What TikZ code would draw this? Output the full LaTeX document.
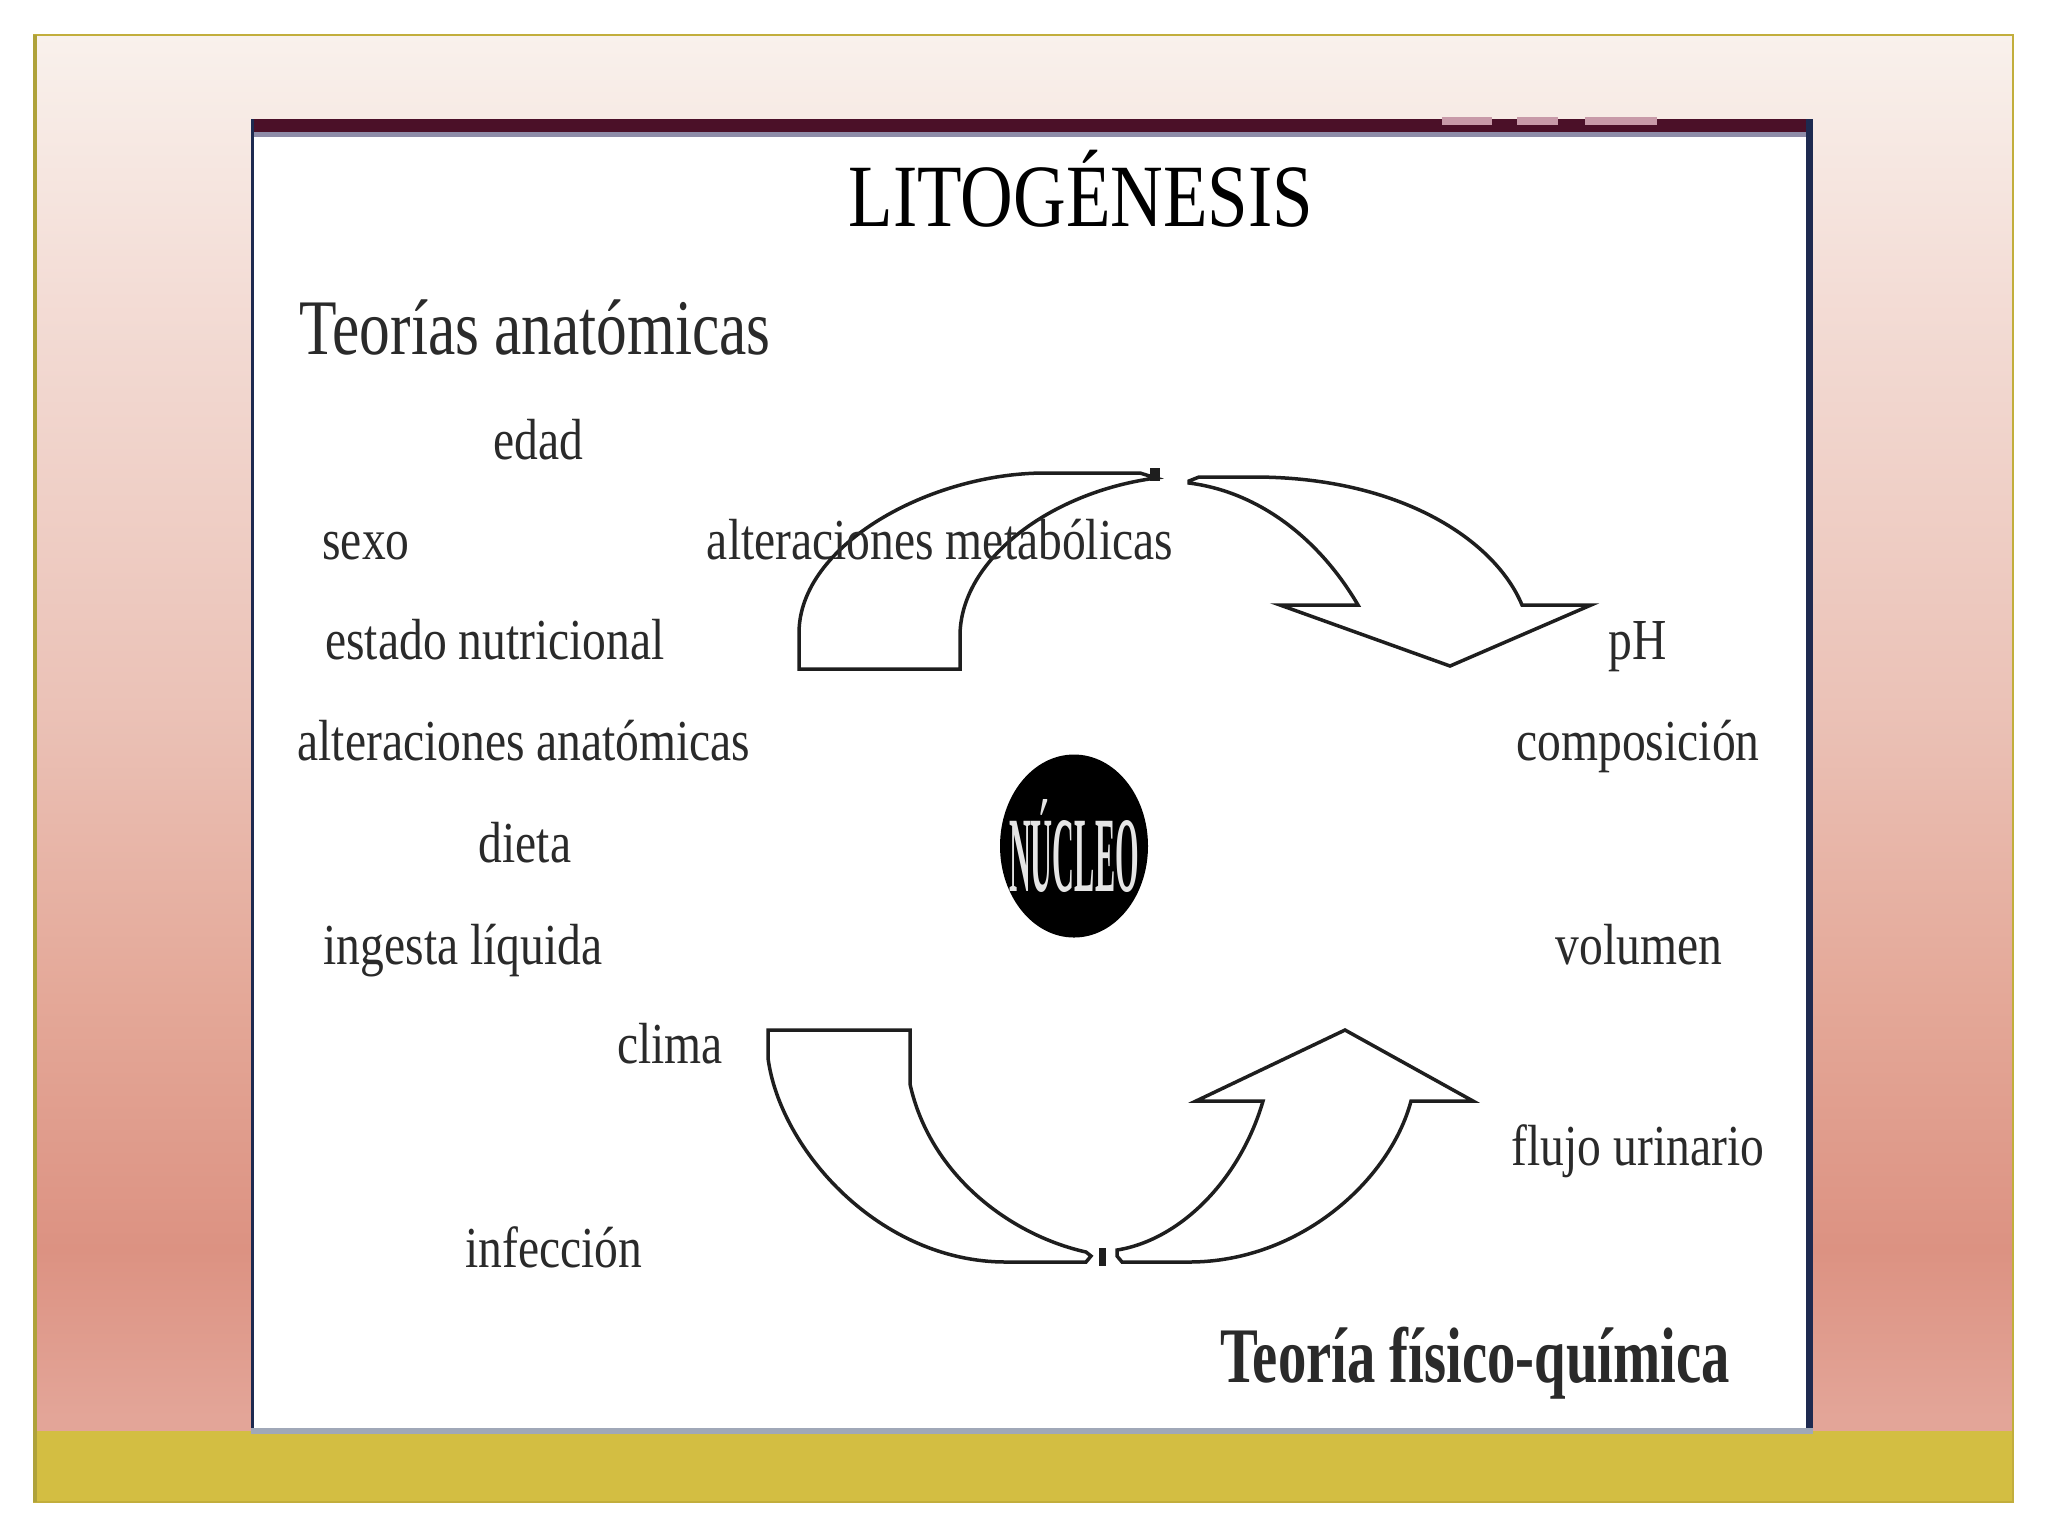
\documentclass[tikz,border=0pt]{standalone}
\usepackage{fontspec}
\usetikzlibrary{shapes.geometric}
\newfontfamily\slidefont[FakeStretch=0.82]{Liberation Serif}
\newfontfamily\headfont[FakeStretch=0.78]{Liberation Serif}
\newfontfamily\fqfont[FakeStretch=0.72]{Liberation Serif}

\definecolor{bgA}{HTML}{E3A598}
\definecolor{bgB}{HTML}{DC9282}
\definecolor{bgC}{HTML}{E4A898}
\definecolor{bgD}{HTML}{EBC2B7}
\definecolor{bgE}{HTML}{F3DCD5}
\definecolor{bgF}{HTML}{F9F1EC}
\definecolor{bandyellow}{HTML}{D3BE42}
\definecolor{framegold}{HTML}{C2AE3C}
\definecolor{frameolive}{HTML}{AFA23A}
\definecolor{barmaroon}{HTML}{4B1028}
\definecolor{barpink}{HTML}{C89AA8}
\definecolor{barslate}{HTML}{8E8CA8}
\definecolor{panelnavy}{HTML}{1E2A50}
\definecolor{panelgray}{HTML}{A0A8B8}
\definecolor{txtgray}{HTML}{2A2A2A}
\definecolor{arrowline}{HTML}{1E1E1E}

% the path is fitted to the middle half (25bp--75bp) of the shading
\pgfdeclareverticalshading{slidebg}{100bp}{color(0bp)=(bgA); color(25bp)=(bgA); color(25.5bp)=(bgA); color(31.5bp)=(bgB); color(40.5bp)=(bgC); color(51bp)=(bgD); color(65.5bp)=(bgE); color(75bp)=(bgF); color(100bp)=(bgF)}

\tikzset{
  item/.style={anchor=base, inner sep=0pt, text=txtgray,
    font=\slidefont\fontsize{16.5}{18}\selectfont},
  heading/.style={anchor=base, inner sep=0pt, text=txtgray,
    font=\headfont\fontsize{22.4}{24}\selectfont},
  bigarrow/.style={draw=arrowline, line width=0.35mm, fill=white, line join=miter},
  nucleo/.style={ellipse, fill=black, inner sep=0pt,
    minimum width=14.8mm, minimum height=18.3mm},
}

\begin{document}
\begin{tikzpicture}[x=0.1mm, y=-0.1mm]
    \useasboundingbox (0,0) rectangle (2048,1536);

    % Slide background
    \shade[shading=slidebg] (34,35) rectangle (2013,1431);
    \fill[bandyellow] (34,1431) rectangle (2013,1502);
    \draw[framegold, line width=0.25mm] (34,35) rectangle (2013,1502);
    \draw[frameolive, line width=0.4mm] (35,35) -- (35,1502);

    % Panel
    \fill[white] (251,119) rectangle (1813,1434);
    \fill[barmaroon] (251,119) rectangle (1813,132);
    \fill[barpink] (1442,117) rectangle (1492,125);
    \fill[barpink] (1517,117) rectangle (1558,125);
    \fill[barpink] (1585,117) rectangle (1657,125);
    \fill[barslate] (254,132) rectangle (1806,137);
    \fill[panelnavy] (251,119) rectangle (254,1434);
    \fill[panelnavy] (1806,119) rectangle (1813,1434);
    \fill[panelgray] (251,1428) rectangle (1813,1434);

    % Titles
    \node[anchor=base, inner sep=0pt, text=black, font=\slidefont\fontsize{25.3}{27}\selectfont]
        (titulo) at (1081,226) {LITOGÉNESIS};
    \node[heading] (anat) at (535,354) {Teorías anatómicas};
    \node[heading, font=\fqfont\bfseries\fontsize{22.4}{24}\selectfont]
        (fisq) at (1475,1382) {Teoría físico-química};

    % Left factors
    \node[item] (edad) at (538,459) {edad};
    \node[item] (sexo) at (366,559) {sexo};
    \node[item] (nutri) at (495,659) {estado nutricional};
    \node[item] (altanat) at (524,760) {alteraciones anatómicas};
    \node[item] (dieta) at (525,862) {dieta};
    \node[item] (ingesta) at (463,964) {ingesta líquida};
    \node[item] (clima) at (670,1063) {clima};
    \node[item] (infec) at (554,1267) {infección};

    % Right factors
    \node[item] (ph) at (1638,659) {pH};
    \node[item] (compo) at (1638,760) {composición};
    \node[item] (volumen) at (1639,964) {volumen};
    \node[item] (flujo) at (1638,1165) {flujo urinario};

    % Upper arrows
    \draw[bigarrow] (799,669) -- (799,633) .. controls (799,545) and (930,473) .. (1045,473)
        -- (1140,473) -- (1156,478) .. controls (1050,492) and (960,560) .. (960,636)
        -- (960,669) -- cycle;
    \draw[bigarrow] (1189,481) -- (1199,477) -- (1254,477)
        .. controls (1400,477) and (1495,540) .. (1522,605)
        -- (1591,605) -- (1450,666) -- (1280,605) -- (1358,605)
        .. controls (1320,540) and (1260,492) .. (1189,483) -- cycle;
    \fill[arrowline] (1150,468) rectangle (1160,481);

    % Lower arrows
    \draw[bigarrow] (768,1030) -- (910,1030) -- (910,1084)
        .. controls (930,1175) and (1010,1235) .. (1086,1252)
        -- (1091,1256) -- (1086,1262) -- (1006,1262)
        .. controls (880,1262) and (780,1150) .. (768,1058) -- cycle;
    \draw[bigarrow] (1117,1256) -- (1122,1262) -- (1189,1262)
        .. controls (1300,1262) and (1390,1180) .. (1411,1101)
        -- (1473,1101) -- (1345,1030) -- (1196,1101) -- (1263,1101)
        .. controls (1240,1180) and (1180,1240) .. (1117,1250) -- cycle;
    \fill[arrowline] (1099,1248) rectangle (1106,1266);

    % Alteraciones metabolicas over the arrow
    \node[item] (altmet) at (940,559) {alteraciones metabólicas};

    % Nucleus
    \node[nucleo] (nucleo) at (1074,846) {};
    \node[inner sep=0pt, text=white!80!gray] (nucleotxt) at (nucleo.center)
        {\resizebox{13mm}{9.2mm}{\slidefont\bfseries NÚCLEO}};

\end{tikzpicture}
\end{document}
